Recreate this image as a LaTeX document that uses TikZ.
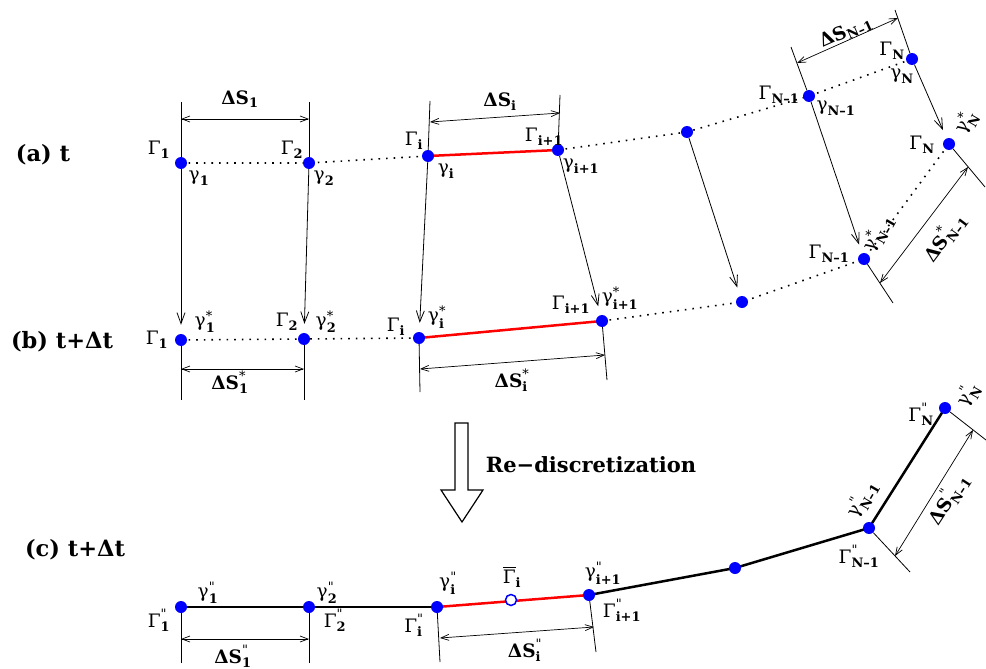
\documentclass[tikz,border=0pt]{standalone}
\usepackage{amsmath}
\usepackage{fontspec}
\setmainfont{DejaVu Serif}
\usetikzlibrary{arrows.meta,backgrounds}
\newcommand{\gs}[2]{$\text{#1}_{\text{\bfseries #2}}$}
\newcommand{\gss}[3]{$\text{#1}^{\text{#2}}_{\text{\bfseries #3}}$}
\newcommand{\dq}{\textquotedbl}

\begin{document}
\begin{tikzpicture}[x=1pt,y=-1pt,
  pt/.style={circle,fill=blue,inner sep=0pt,minimum size=12pt},
  hollow/.style={circle,draw=blue,fill=white,line width=1.5pt,inner sep=0pt,minimum size=11pt},
  lab/.style={font=\fontsize{18.5}{22}\selectfont,inner sep=0pt},
  big/.style={font=\fontsize{22.5}{27}\selectfont\bfseries,inner sep=0pt},
  dotline/.style={line width=1.6pt,dash pattern=on 1.6pt off 6pt},
  redseg/.style={red,line width=2.5pt},
  blackseg/.style={black,line width=2.5pt},
  mv/.style={-{Straight Barb[length=11pt,width=8pt]},line width=0.8pt,shorten >=9pt},
  dim/.style={{Straight Barb[length=8pt,width=6pt]}-{Straight Barb[length=8pt,width=6pt]},line width=0.7pt},
  ext/.style={line width=0.8pt}]
  \useasboundingbox (0,0) rectangle (986,669);
  % points of the three states
  \foreach \n/\x/\y in {1/181/163,2/309/163,3/428/156,4/558/150,5/687/132,6/809/96,7/912/59}
    \node[pt] (a\n) at (\x,\y) {};
  \foreach \n/\x/\y in {1/181/340,2/304/339,3/419/338,4/602/321,5/742/302,6/864/259,7/949/144}
    \node[pt] (b\n) at (\x,\y) {};
  \foreach \n/\x/\y in {1/181/607,2/309/607,3/437/607,4/589/595,5/735/568,6/869/528,7/945/408}
    \node[pt] (c\n) at (\x,\y) {};
  \node[hollow] (cbar) at (511,600) {};
  \begin{scope}[on background layer]
    \draw[dotline] (a1.center) -- (a2.center) -- (a3.center);
    \draw[redseg] (a3.center) -- (a4.center);
    \draw[dotline] (a4.center) -- (a5.center) -- (a6.center) -- (a7.center);
    \draw[dotline] (b1.center) -- (b2.center) -- (b3.center);
    \draw[redseg] (b3.center) -- (b4.center);
    \draw[dotline] (b4.center) -- (b5.center) -- (b6.center) -- (b7.center);
    \draw[blackseg] (c1.center) -- (c2.center) -- (c3.center);
    \draw[redseg] (c3.center) -- (c4.center);
    \draw[blackseg] (c4.center) -- (c5.center) -- (c6.center) -- (c7.center);
  \end{scope}
  \foreach \n in {1,...,7}
    \draw[mv] (a\n) -- (b\n);

  % dimension lines
  \coordinate (ea1) at (181,102); \coordinate (ea2) at (309,102);
  \coordinate (ea3) at (430,101); \coordinate (ea4) at (560,95);
  \coordinate (ea6) at (791,47);  \coordinate (ea7) at (895,10);
  \coordinate (eb1) at (181,400); \coordinate (eb2) at (304,400);
  \coordinate (eb3) at (420,392); \coordinate (eb4) at (607,380);
  \coordinate (eb6) at (893,303); \coordinate (eb7) at (985,187);
  \coordinate (ec1) at (181,663); \coordinate (ec2) at (309,663);
  \coordinate (ec3) at (440,662); \coordinate (ec4) at (596,652);
  \coordinate (ec6) at (910,572); \coordinate (ec7) at (986,440);
  \foreach \p in {a1,a2,a3,a4,a6,a7,b1,b2,b3,b4,b6,b7,c1,c2,c3,c4,c6,c7}
    \draw[ext] (\p) -- (e\p);
  \draw[dim] (181,119) -- (309,119);
  \draw[dim] (430,122) -- (560,113);
  \draw[dim] (797,63) -- (898,18);
  \draw[dim] (181,369) -- (304,369);
  \draw[dim] (420,369) -- (605,355);
  \draw[dim] (880,283) -- (968,167);
  \draw[dim] (181,639) -- (309,639);
  \draw[dim] (440,638) -- (594,627);
  \draw[dim] (895,556) -- (973,430);

  % re-discretization arrow
  \draw[line width=1.2pt] (455,423) -- (468,423) -- (468,490) -- (483,490)
    -- (462,522) -- (441,490) -- (455,490) -- cycle;
  \node[font=\fontsize{21}{25}\selectfont\bfseries,inner sep=0pt] (redis) at (591,465) {Re−discretization};

  % state labels
  \node[big] (la) at (43,155) {(a) t};
  \node[big] (lb) at (62,342) {(b) t+Δt};
  \node[big] (lc) at (75,550) {(c) t+Δt};

  % labels (a)
  \node[lab] (ta1) at (159,150) {\gs{Γ}{1}};
  \node[lab] (ga1) at (199,178) {\gs{γ}{1}};
  \node[lab] (ta2) at (292,150) {\gs{Γ}{2}};
  \node[lab] (ga2) at (324,178) {\gs{γ}{2}};
  \node[lab] (ta3) at (414,141) {\gs{Γ}{i}};
  \node[lab] (ga3) at (446,171) {\gs{γ}{i}};
  \node[lab] (ta4) at (544,137) {\gs{Γ}{i+1}};
  \node[lab] (ga4) at (581,166) {\gs{γ}{i+1}};
  \node[lab] (ta6) at (779,95) {\gs{Γ}{N–1}};
  \node[lab] (ga6) at (836,108) {\gs{γ}{N–1}};
  \node[lab] (ta7) at (892,51) {\gs{Γ}{N}};
  \node[lab] (ga7) at (902,76) {\gs{γ}{N}};
  \node[lab] (da1) at (240,99) {\gs{\bfseries ΔS}{1}};
  \node[lab] (da3) at (500,102) {\gs{\bfseries ΔS}{i}};
  \node[lab,rotate=24] (da6) at (846,32) {\gs{\bfseries ΔS}{N–1}};

  % labels (b)
  \node[lab] (tb1) at (157,340) {\gs{Γ}{1}};
  \node[lab] (gb1) at (205,322) {\gss{γ}{*}{1}};
  \node[lab] (tb2) at (287,322) {\gs{Γ}{2}};
  \node[lab] (gb2) at (326,322) {\gss{γ}{*}{2}};
  \node[lab] (tb3) at (396,327) {\gs{Γ}{i}};
  \node[lab] (gb3) at (437,317) {\gss{γ}{*}{i}};
  \node[lab] (tb4) at (571,305) {\gs{Γ}{i+1}};
  \node[lab] (gb4) at (620,298) {\gss{γ}{*}{i+1}};
  \node[lab] (tb6) at (829,254) {\gs{Γ}{N–1}};
  \node[lab,rotate=60] (gb6) at (878,233) {\gss{γ}{*}{N–1}};
  \node[lab] (tb7) at (922,145) {\gs{Γ}{N}};
  \node[lab,rotate=60] (gb7) at (966,122) {\gss{γ}{*}{N}};
  \node[lab] (db1) at (230,382) {\gss{\bfseries ΔS}{*}{1}};
  \node[lab] (db3) at (512,380) {\gss{\bfseries ΔS}{*}{i}};
  \node[lab,rotate=53] (db6) at (944,237) {\gss{\bfseries ΔS}{*}{N–1}};

  % labels (c)
  \node[lab] (gc1) at (208,593) {\gss{γ}{\dq}{1}};
  \node[lab] (tc1) at (159,620) {\gss{Γ}{\dq}{1}};
  \node[lab] (gc2) at (327,593) {\gss{γ}{\dq}{2}};
  \node[lab] (tc2) at (335,620) {\gss{Γ}{\dq}{2}};
  \node[lab] (gc3) at (448,583) {\gss{γ}{\dq}{i}};
  \node[lab] (tc3) at (414,625) {\gss{Γ}{\dq}{i}};
  \node[lab] (tbar) at (512,577) {$\overline{\text{Γ}}_{\text{\bfseries i}}$};
  \node[lab] (gc4) at (603,573) {\gss{γ}{\dq}{i+1}};
  \node[lab] (tc4) at (622,610) {\gss{Γ}{\dq}{i+1}};
  \node[lab,rotate=60] (gc6) at (862,499) {\gss{γ}{\dq}{N–1}};
  \node[lab] (tc6) at (859,556) {\gss{Γ}{\dq}{N–1}};
  \node[lab] (tc7) at (921,414) {\gss{Γ}{\dq}{N}};
  \node[lab,rotate=60] (gc7) at (968,395) {\gss{γ}{\dq}{N}};
  \node[lab] (dc1) at (233,656) {\gss{\bfseries ΔS}{\dq}{1}};
  \node[lab] (dc3) at (525,650) {\gss{\bfseries ΔS}{\dq}{i}};
  \node[lab,rotate=57] (dc6) at (948,499) {\gss{\bfseries ΔS}{\dq}{N–1}};
\end{tikzpicture}
\end{document}
